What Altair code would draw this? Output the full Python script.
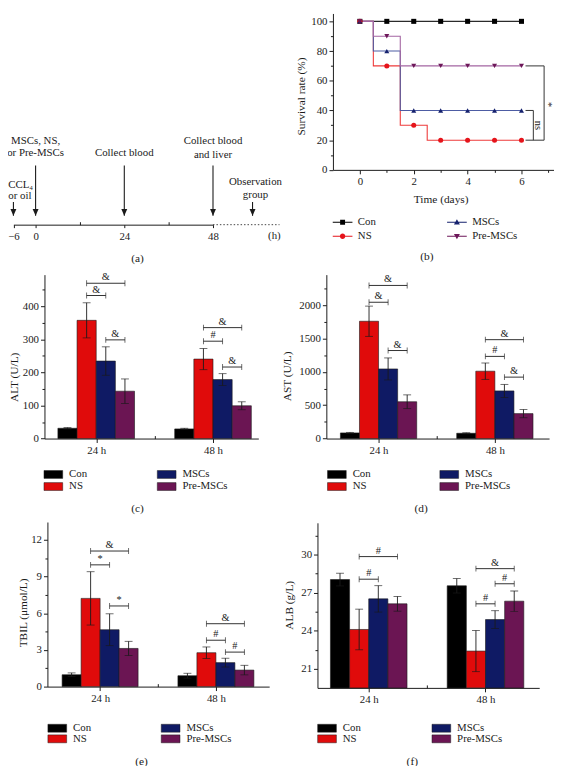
import altair as alt
import pandas as pd

FONT = "Liberation Serif"
INK = "#1a1a1a"
PAGE = 8                       # page margin (reference px -> chart px)
W, H = 554, 758

SERIES = ["Con", "NS", "MSCs", "Pre-MSCs"]
LEGEND_ORDER = ["Con", "MSCs", "NS", "Pre-MSCs"]
TIMES = ["24 h", "48 h"]
BAR_COLORS = ["#000000", "#e00b0b", "#0f1a64", "#6b1553"]
BW = 0.164                     # bar width in group units

# ---------------- (a) timeline ----------------
TL_TICKS = [-6, 0, 24, 48]
TL_MINOR = [12, 36]
TL_ARROW_T = [-6, 0, 24, 48, 58.7]
TL_ARROW_TOP = [23, 60, 60, 60, 23]
TL_ARROW_TIP = [9, 9, 9, 9, 9]
TL_OBS_FROM = [48]
TL_OBS_TO = [66]
TL_TEXT = ["CCL\u2084", "or oil", "MSCs, NS,", "or Pre-MSCs", "Collect blood",
           "Collect blood", "and liver", "Observation", "group", "(h)"]
TL_TEXT_T = [-7.4, -7.4, 0, 0, 24, 48, 48, 59.5, 59.5, 64.6]
TL_TEXT_Y = [40, 29, 85.3, 72.3, 72.3, 84.6, 70.6, 43.3, 29.6, -11.7]
TL_TEXT_ALIGN = ["left", "left", "center", "center", "center", "center",
                 "center", "center", "center", "center"]

# ---------------- (b) survival ----------------
DAYS = [0, 1, 2, 3, 4, 5, 6]
SURV_CON = [100, 100, 100, 100, 100, 100, 100]
SURV_NS = [100, 70, 30, 20, 20, 20, 20]
SURV_MSCS = [100, 80, 40, 40, 40, 40, 40]
SURV_PRE = [100, 90, 70, 70, 70, 70, 70]
LINE_COLORS = ["#2b2b2b", "#ee3b3b", "#4d5ca3", "#a466a2"]
MARKER_COLORS = ["#000000", "#e5141b", "#16226e", "#6d1759"]
MARKER_SHAPES = ["square", "circle", "triangle-up", "triangle-down"]
SEG = "M-2,-0.1L2,-0.1L2,0.1L-2,0.1Z "
LEGEND_PATHS = [
    SEG + "M-0.5,-0.5L0.5,-0.5L0.5,0.5L-0.5,0.5Z",
    SEG + "M-0.55,0A0.55,0.55 0 1,1 0.55,0A0.55,0.55 0 1,1 -0.55,0Z",
    SEG + "M0,-0.6L0.6,0.45L-0.6,0.45Z",
    SEG + "M-0.6,-0.45L0.6,-0.45L0,0.6Z",
]
SIG_X1 = [6.15, 6.84, 6.15, 6.15, 6.44]
SIG_X2 = [6.84, 6.84, 6.84, 6.44, 6.44]
SIG_Y1 = [70, 70, 20, 40, 40]
SIG_Y2 = [70, 20, 20, 40, 20]
SIG_TEXT = ["ns", "*"]
SIG_TEXT_X = [6.62, 7.0]
SIG_TEXT_Y = [30, 44]

# ---------------- (c)-(f) bar panels ----------------
ALT_24, ALT_24_SD = [31, 357, 234, 143], [2, 53, 43, 37]
ALT_48, ALT_48_SD = [29, 240, 178, 99], [2, 32, 18, 12]
ALT_BR_T = [0, 0, 0, 1, 1, 1]
ALT_BR_FROM = ["NS", "NS", "MSCs", "NS", "NS", "MSCs"]
ALT_BR_TO = ["Pre-MSCs", "MSCs", "Pre-MSCs", "Pre-MSCs", "MSCs", "Pre-MSCs"]
ALT_BR_Y = [469, 432, 298, 335, 294, 216]
ALT_BR_LABEL = ["&", "&", "&", "&", "#", "&"]

AST_24, AST_24_SD = [84, 1759, 1044, 552], [8, 227, 165, 103]
AST_48, AST_48_SD = [79, 1010, 714, 374], [8, 123, 98, 62]
AST_BR_T = [0, 0, 0, 1, 1, 1]
AST_BR_FROM = ["NS", "NS", "MSCs", "NS", "NS", "MSCs"]
AST_BR_TO = ["Pre-MSCs", "MSCs", "Pre-MSCs", "Pre-MSCs", "MSCs", "Pre-MSCs"]
AST_BR_Y = [2296, 2044, 1320, 1483, 1232, 921]
AST_BR_LABEL = ["&", "&", "&", "&", "#", "&"]

TBIL_24, TBIL_24_SD = [0.97, 7.21, 4.65, 3.12], [0.15, 2.18, 1.3, 0.58]
TBIL_48, TBIL_48_SD = [0.89, 2.77, 1.96, 1.35], [0.2, 0.47, 0.36, 0.39]
TBIL_BR_T = [0, 0, 0, 1, 1, 1]
TBIL_BR_FROM = ["NS", "NS", "MSCs", "NS", "NS", "MSCs"]
TBIL_BR_TO = ["Pre-MSCs", "MSCs", "Pre-MSCs", "Pre-MSCs", "MSCs", "Pre-MSCs"]
TBIL_BR_Y = [11.08, 9.95, 6.59, 5.14, 3.79, 2.82]
TBIL_BR_LABEL = ["&", "*", "*", "&", "#", "#"]

ALB_24, ALB_24_SD = [28.03, 24.1, 26.51, 26.12], [0.5, 1.6, 1.04, 0.58]
ALB_48, ALB_48_SD = [27.54, 22.4, 24.88, 26.33], [0.57, 1.62, 0.7, 0.8]
ALB_BR_T = [0, 0, 1, 1, 1]
ALB_BR_FROM = ["NS", "NS", "NS", "MSCs", "NS"]
ALB_BR_TO = ["Pre-MSCs", "MSCs", "Pre-MSCs", "Pre-MSCs", "MSCs"]
ALB_BR_Y = [29.84, 28.06, 28.89, 27.70, 26.12]
ALB_BR_LABEL = ["#", "#", "&", "#", "#"]

RECT_PATH = "M-1.9,-0.8L1.9,-0.8L1.9,0.8L-1.9,0.8Z"


def reorder(values):
    """values given in SERIES order -> LEGEND_ORDER order"""
    return [values[SERIES.index(s)] for s in LEGEND_ORDER]


def sc(domain, px):
    return alt.Scale(domain=domain, range=[px[0] - PAGE, px[1] - PAGE], nice=False, zero=False)


# ---------------- panel (a) ----------------
def panel_a():
    xs = sc([-6, 48], [13.5, 216])
    ys = sc([0, 100], [222.3, 122.3])
    ay = 222.3 - PAGE
    arrows = pd.DataFrame({"t": TL_ARROW_T, "top": TL_ARROW_TOP, "tip": TL_ARROW_TIP})
    shafts = alt.Chart(arrows).mark_rule(color=INK, strokeWidth=1.1).encode(
        x=alt.X("t:Q", scale=xs, axis=alt.Axis(
            orient="bottom", offset=ay - H, values=TL_TICKS, format="d", tickSize=3,
            title="(a)", titleX=131, titleY=34.7, titleBaseline="middle", titleAlign="center",
            labelPadding=3)),
        y=alt.Y("top:Q", scale=ys, axis=None), y2="tip:Q")
    heads = alt.Chart(arrows).mark_point(
        shape="M-0.6,-1.4L0.6,-1.4L0,0Z", filled=True, size=100, opacity=1, color=INK
    ).encode(
        x=alt.X("t:Q", scale=xs, axis=alt.Axis(
            orient="top", offset=-ay, values=TL_MINOR, labels=False, domain=False,
            tickSize=3, title=None)),
        y=alt.Y("tip:Q", scale=ys, axis=None))
    obs = alt.Chart(pd.DataFrame({"a": TL_OBS_FROM, "b": TL_OBS_TO})).mark_rule(
        color="#444444", strokeWidth=1, strokeDash=[1.5, 2]).encode(
        x=alt.X("a:Q", scale=xs, axis=None), x2="b:Q", y=alt.YDatum(0, scale=ys, axis=None))
    tdf = pd.DataFrame({"t": TL_TEXT_T, "y": TL_TEXT_Y, "text": TL_TEXT, "align": TL_TEXT_ALIGN})
    texts = []
    for al in ["left", "center"]:
        texts.append(alt.Chart(tdf).transform_filter(f"datum.align == '{al}'").mark_text(
            font=FONT, fontSize=11, color=INK, align=al, baseline="middle").encode(
            x=alt.X("t:Q", scale=xs, axis=None), y=alt.Y("y:Q", scale=ys, axis=None), text="text:N"))
    return alt.layer(shafts, heads, obs, *texts).resolve_axis(x="independent", y="independent")


# ---------------- panel (b) ----------------
def panel_b():
    xs = sc([-1, 7.2], [337.7, 561.8])
    ys = sc([0, 105.3], [166.7, 8])
    ax_y = 166.7 - PAGE
    ax_x = 337.7 - PAGE
    df = pd.DataFrame({
        "day": DAYS * 4,
        "rate": SURV_CON + SURV_NS + SURV_MSCS + SURV_PRE,
        "series": [s for s in SERIES for _ in DAYS],
    })
    lines = alt.Chart(df).mark_line(interpolate="step", strokeWidth=1.1).encode(
        x=alt.X("day:Q", scale=xs, axis=alt.Axis(
            orient="bottom", offset=ax_y - H, values=[0, 2, 4, 6], format="d", tickSize=4,
            title="Time (days)", titleX=439, titleY=30.5, titleBaseline="middle",
            titleAlign="center")),
        y=alt.Y("rate:Q", scale=ys, axis=alt.Axis(
            orient="left", offset=-ax_x, values=[0, 20, 40, 60, 80, 100], format="d",
            tickSize=4, title="Survival rate (%)", titleX=-31.7, titleY=83.7,
            titleBaseline="middle", titleAlign="center", titleAngle=270)),
        color=alt.Color("series:N", scale=alt.Scale(domain=SERIES, range=LINE_COLORS), legend=None),
        order=alt.Order("day:Q"))
    pts = alt.Chart(df).mark_point(filled=True, opacity=1, size=26).encode(
        x=alt.X("day:Q", scale=xs, axis=alt.Axis(
            orient="bottom", offset=ax_y - H, values=[1, 3, 5, 7], labels=False,
            domain=False, tickSize=2.5, title=None)),
        y=alt.Y("rate:Q", scale=ys, axis=alt.Axis(
            orient="left", offset=-ax_x, values=[10, 30, 50, 70, 90], labels=False,
            domain=False, tickSize=2.5, title=None)),
        color=alt.Color("series:N", scale=alt.Scale(domain=SERIES, range=MARKER_COLORS), legend=None),
        shape=alt.Shape("series:N", scale=alt.Scale(domain=SERIES, range=MARKER_SHAPES), legend=None))
    sig = alt.Chart(pd.DataFrame({"x1": SIG_X1, "x2": SIG_X2, "y1": SIG_Y1, "y2": SIG_Y2})).mark_rule(
        color="#333333", strokeWidth=1).encode(
        x=alt.X("x1:Q", scale=xs, axis=None), x2="x2:Q",
        y=alt.Y("y1:Q", scale=ys, axis=None), y2="y2:Q")
    sigt = alt.Chart(pd.DataFrame({"x": SIG_TEXT_X, "y": SIG_TEXT_Y, "t": SIG_TEXT})).mark_text(
        font=FONT, fontSize=10.5, color=INK, angle=90, baseline="middle", align="center").encode(
        x=alt.X("x:Q", scale=xs, axis=None), y=alt.Y("y:Q", scale=ys, axis=None), text="t:N")
    leg = alt.Legend(orient="none", legendX=334, legendY=206, columns=2, direction="horizontal",
                     title="(b)", titleOrient="bottom", titleAnchor="middle", titlePadding=10,
                     symbolSize=100, symbolStrokeWidth=0, labelOffset=10, columnPadding=71,
                     rowPadding=2.5, padding=0, labelFontSize=11, titleFontSize=11.5,
                     titleFontWeight="normal", labelFont=FONT, titleFont=FONT,
                     labelColor=INK, titleColor=INK)
    dummy = alt.Chart(df).transform_filter("false").mark_point(filled=True, opacity=1).encode(
        x=alt.X("day:Q", scale=xs, axis=None), y=alt.Y("rate:Q", scale=ys, axis=None),
        color=alt.Color("series:N", scale=alt.Scale(domain=LEGEND_ORDER,
                        range=reorder(MARKER_COLORS)), legend=leg),
        shape=alt.Shape("series:N", scale=alt.Scale(domain=LEGEND_ORDER,
                        range=reorder(LEGEND_PATHS)), legend=leg))
    return alt.layer(lines, pts, sig, sigt, dummy).resolve_scale(
        color="independent", shape="independent").resolve_axis(x="independent", y="independent")


# ---------------- bar panels ----------------
def bar_panel(m24, s24, m48, s48, br_t, br_from, br_to, br_y, br_label, ytitle, ytitle_xy,
              xdom, xpx, ydom, ypx, ymajor, yminor, leg_x, leg_y, colpad, rowpad, tpad, caption):
    rows = []
    for ti, (means, sds) in enumerate(((m24, s24), (m48, s48))):
        for si, s in enumerate(SERIES):
            rows.append({"time": TIMES[ti], "ti": ti, "si": si, "series": s,
                         "mean": means[si], "sd": sds[si]})
    df = pd.DataFrame(rows)
    br = pd.DataFrame({"ti": br_t, "fi": [SERIES.index(s) for s in br_from],
                       "oi": [SERIES.index(s) for s in br_to], "y": br_y, "label": br_label})
    xs = sc(xdom, xpx)
    ys = sc(ydom, ypx)
    ax_y = ypx[0] - PAGE
    ax_x = xpx[0] - PAGE
    base = alt.Chart(df).transform_calculate(
        xc=f"datum.ti + (datum.si - 1.5) * {BW}",
        xl=f"datum.ti + (datum.si - 2) * {BW}",
        xr=f"datum.ti + (datum.si - 1) * {BW}",
        lo="datum.mean - datum.sd",
        hi="datum.mean + datum.sd")
    leg = alt.Legend(orient="none", legendX=leg_x, legendY=leg_y, columns=2, direction="horizontal",
                     title=caption, titleOrient="bottom", titleAnchor="middle", titlePadding=tpad,
                     symbolType=RECT_PATH, symbolSize=100, symbolStrokeColor=INK,
                     symbolStrokeWidth=0.5, labelOffset=10.5, columnPadding=colpad,
                     rowPadding=rowpad, padding=0, labelFontSize=11, titleFontSize=11.5,
                     titleFontWeight="normal", labelFont=FONT, titleFont=FONT,
                     labelColor=INK, titleColor=INK)
    bars = base.mark_bar(stroke=INK, strokeWidth=0.6).encode(
        x=alt.X("xl:Q", scale=xs, axis=alt.Axis(
            orient="bottom", offset=ax_y - H, values=[0, 1], labelExpr=f"{TIMES}[datum.value]",
            tickSize=4, title=None)),
        x2="xr:Q",
        y=alt.Y("mean:Q", scale=ys, axis=alt.Axis(
            orient="left", offset=-ax_x, values=ymajor, format="d", tickSize=4,
            title=ytitle, titleX=ytitle_xy[0] - xpx[0], titleY=ytitle_xy[1] - PAGE,
            titleBaseline="middle", titleAlign="center", titleAngle=270)),
        y2=alt.Y2Datum(ydom[0]),
        color=alt.Color("series:N", scale=alt.Scale(domain=LEGEND_ORDER,
                        range=reorder(BAR_COLORS)), legend=leg))
    err = base.mark_rule(color=INK, strokeWidth=0.9).encode(
        x=alt.X("xc:Q", scale=xs, axis=alt.Axis(
            orient="top", offset=-ax_y, values=[0.5], labels=False, domain=False,
            tickSize=3, title=None)),
        y=alt.Y("lo:Q", scale=ys, axis=alt.Axis(
            orient="left", offset=-ax_x, values=yminor, labels=False, domain=False,
            tickSize=2.5, title=None)),
        y2="hi:Q")
    caps = base.transform_fold(["lo", "hi"], as_=["end", "yv"]).mark_tick(
        orient="horizontal", color=INK, size=8, thickness=0.9).encode(
        x=alt.X("xc:Q", scale=xs, axis=None), y=alt.Y("yv:Q", scale=ys, axis=None))
    bb = alt.Chart(br).transform_calculate(
        x1=f"datum.ti + (datum.fi - 1.5) * {BW}",
        x2=f"datum.ti + (datum.oi - 1.5) * {BW}").transform_calculate(
        xm="(datum.x1 + datum.x2) / 2")
    br_line = bb.mark_rule(color=INK, strokeWidth=0.9).encode(
        x=alt.X("x1:Q", scale=xs, axis=None), x2="x2:Q", y=alt.Y("y:Q", scale=ys, axis=None))
    br_ends = bb.transform_fold(["x1", "x2"], as_=["end", "xv"]).mark_tick(
        orient="vertical", color=INK, size=6, thickness=0.9).encode(
        x=alt.X("xv:Q", scale=xs, axis=None), y=alt.Y("y:Q", scale=ys, axis=None))
    br_text = bb.mark_text(font=FONT, fontSize=10.5, color=INK, dy=-6, baseline="middle").encode(
        x=alt.X("xm:Q", scale=xs, axis=None), y=alt.Y("y:Q", scale=ys, axis=None), text="label:N")
    return alt.layer(bars, err, caps, br_line, br_ends, br_text).resolve_axis(
        x="independent", y="independent")


pc = bar_panel(ALT_24, ALT_24_SD, ALT_48, ALT_48_SD, ALT_BR_T, ALT_BR_FROM, ALT_BR_TO,
               ALT_BR_Y, ALT_BR_LABEL, "ALT (U/L)", (15, 376.7),
               [-0.443, 1.388], [45, 262], [0, 495], [439.3, 273],
               [0, 100, 200, 300, 400], [50, 150, 250, 350, 450], 40.5, 462, 70, 0.5, 11.5, "(c)")
pd_ = bar_panel(AST_24, AST_24_SD, AST_48, AST_48_SD, AST_BR_T, AST_BR_FROM, AST_BR_TO,
                AST_BR_Y, AST_BR_LABEL, "AST (U/L)", (291.7, 375.7),
                [-0.449, 1.466], [331, 557], [0, 2458], [439.3, 273],
                [0, 500, 1000, 1500, 2000], [250, 750, 1250, 1750, 2250], 328.2, 462, 69, 0.5, 11.5, "(d)")
pe = bar_panel(TBIL_24, TBIL_24_SD, TBIL_48, TBIL_48_SD, TBIL_BR_T, TBIL_BR_FROM, TBIL_BR_TO,
               TBIL_BR_Y, TBIL_BR_LABEL, "TBIL (\u03bcmol/L)", (23.3, 615.7),
               [-0.455, 1.460], [48, 273], [0, 13.45], [691, 524],
               [0, 3, 6, 9, 12], [1.5, 4.5, 7.5, 10.5], 44.5, 719.5, 70, -1.5, 12.5, "(e)")
pf = bar_panel(ALB_24, ALB_24_SD, ALB_48, ALB_48_SD, ALB_BR_T, ALB_BR_FROM, ALB_BR_TO,
               ALB_BR_Y, ALB_BR_LABEL, "ALB (g/L)", (293.3, 608),
               [-0.439, 1.460], [322, 547], [19.5, 32.5], [692.3, 524.8],
               [21, 24, 27, 30], [22.5, 25.5, 28.5, 31.5], 318.2, 719.5, 71, -1.5, 12.5, "(f)")

chart = alt.layer(panel_a(), panel_b(), pc, pd_, pe, pf).resolve_scale(
    x="independent", y="independent", color="independent", shape="independent"
).resolve_axis(x="independent", y="independent").resolve_legend(
    color="independent", shape="independent"
).properties(
    width=W, height=H, padding=0, autosize=alt.AutoSizeParams(type="none")
).configure_view(stroke=None).configure_axis(
    labelFont=FONT, titleFont=FONT, labelFontSize=11, titleFontSize=11.5,
    titleFontWeight="normal", labelColor=INK, titleColor=INK, domainColor=INK,
    tickColor=INK, domainWidth=1, tickWidth=1, grid=False, labelPadding=2,
    labelOverlap=False, labelFlush=False, minExtent=0
)

chart.save("out.html", embed_options={"renderer": "svg", "actions": False})
